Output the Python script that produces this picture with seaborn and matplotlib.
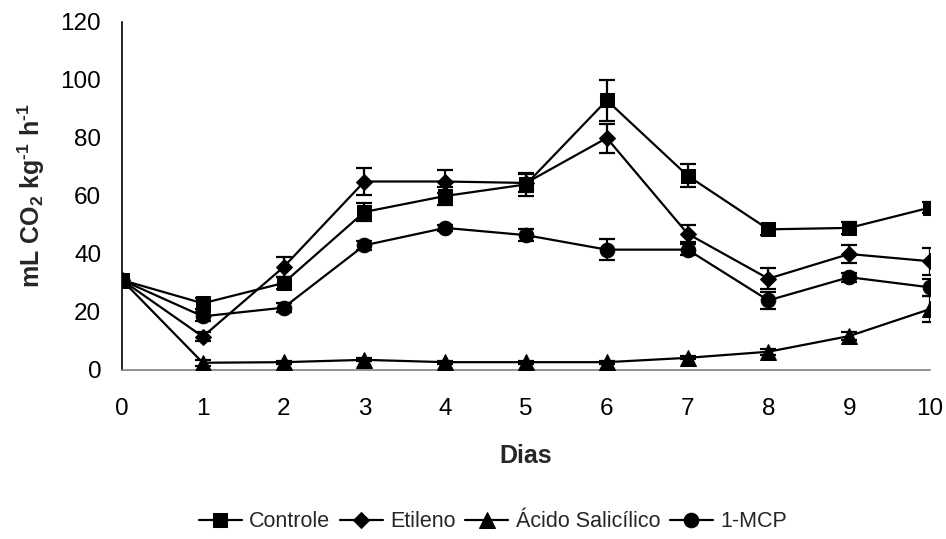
import matplotlib
matplotlib.use("Agg")
import matplotlib.pyplot as plt
import seaborn as sns

# Respiration rate (mL CO2 kg-1 h-1) over storage days per treatment
dias = [0, 1, 2, 3, 4, 5, 6, 7, 8, 9, 10]

controle = [31, 23, 30, 54.5, 60, 64, 93, 67, 48.5, 49, 56]
etileno = [31, 11.5, 35.5, 65, 65, 64.5, 80, 47, 31.5, 40, 37.5]
acido = [31, 2.5, 2.7, 3.5, 2.7, 2.7, 2.7, 4.2, 6.3, 11.7, 21]
mcp = [31, 18.5, 21.5, 43, 49, 46.5, 41.5, 41.5, 24, 32, 28.5]

controle_err = [1.5, 2, 2, 3, 3, 4, 7, 4, 2, 2, 2]
etileno_err = [1, 1.5, 3.5, 4.5, 4, 3, 5, 3, 3.7, 3.2, 4.7]
acido_err = [1, 1, 0.5, 0.5, 0.5, 0.5, 0.5, 0.5, 1, 1.5, 4.6]
mcp_err = [1, 1.5, 1.5, 1.5, 1, 2, 3.7, 2, 3, 1.5, 3]

nomes = ["Controle", "Etileno", "Ácido Salicílico", "1-MCP"]
y_ticks = [0, 20, 40, 60, 80, 100, 120]

sns.set_theme(style="white")
plt.rcParams["font.family"] = ["Liberation Sans", "DejaVu Sans"]
plt.rcParams["mathtext.fontset"] = "custom"
plt.rcParams["mathtext.rm"] = "Liberation Sans:bold"
plt.rcParams["mathtext.it"] = "Liberation Sans:bold"
plt.rcParams["mathtext.bf"] = "Liberation Sans:bold"

W, H = 946, 539
fig = plt.figure(figsize=(W / 100, H / 100), dpi=100)
ax = fig.add_axes([122 / W, 1 - 370 / H, (930 - 122) / W, (370 - 22) / H])

series = [
    (controle, controle_err, "s", 10),
    (etileno, etileno_err, "D", 8),
    (acido, acido_err, "^", 11),
    (mcp, mcp_err, "o", 10.5),
]

handles = []
for nome, (vals, err, mk, ms) in zip(nomes, series):
    sns.lineplot(x=dias, y=vals, ax=ax, color="black", marker=mk,
                 markersize=ms, markeredgecolor="black", linewidth=1.6,
                 label=nome, legend=False, zorder=3)
    handles.append(ax.lines[-1])
    ax.errorbar(dias, vals, yerr=err, fmt="none", ecolor="black",
                elinewidth=1.6, capsize=5.5, capthick=1.6, zorder=2)

ax.set_xlim(0, 10)
ax.set_ylim(0, 120)
ax.set_xticks(dias)
ax.set_yticks(y_ticks)

for s in ["top", "right"]:
    ax.spines[s].set_visible(False)
ax.spines["left"].set_color("black")
ax.spines["left"].set_linewidth(1.2)
ax.spines["bottom"].set_color("#808080")
ax.spines["bottom"].set_linewidth(1.2)

ax.tick_params(axis="both", which="major", direction="out", width=1,
               color="#808080", labelsize=17.5, labelcolor="black")
ax.tick_params(axis="x", length=5.5, pad=14.5)
ax.tick_params(axis="y", length=6.5, pad=8.5)

ax.set_xlabel("Dias", fontsize=18, fontweight="bold", labelpad=17.5)
ax.set_ylabel(r"mL CO$_{2}$ kg$^{\text{-}1}$ h$^{\text{-}1}$", fontsize=18,
              fontweight="bold", labelpad=10)

fig.legend(handles, nomes, loc="center", bbox_to_anchor=(0.521, 0.032),
           ncol=4, frameon=False, fontsize=15.5, handlelength=2.0,
           handletextpad=0.34, columnspacing=0.44)

fig.savefig("out.png", dpi=100)
